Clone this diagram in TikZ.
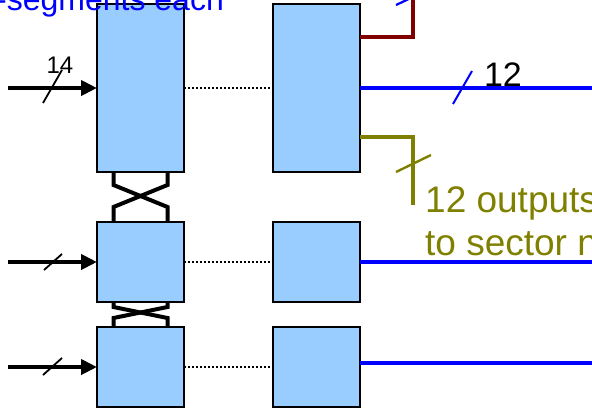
\documentclass[tikz,border=0pt]{standalone}
\usepackage{fontspec}
\setmainfont{Liberation Sans}
\usetikzlibrary{positioning,arrows.meta}
\definecolor{boxblue}{HTML}{99CCFF}
\definecolor{darkred}{RGB}{128,0,0}
\definecolor{olivetext}{RGB}{128,128,0}

\begin{document}
\begin{tikzpicture}[
    x=1pt,y=-1pt,
    node distance=50pt,
    box/.style={rectangle,draw,line width=2pt,fill=boxblue,minimum width=87pt,inner sep=0pt,outer sep=0pt},
    inarrow/.style={-{Triangle[length=16pt,width=15pt]},line width=4pt},
    link/.style={line width=2pt,dash pattern=on 2pt off 2pt},
    outline/.style={line width=3.5pt,draw=blue},
    cross/.style={line width=4pt,line join=miter},
    slash/.style={line width=1.8pt},
    txt/.style={inner sep=0pt,font=\fontsize{#1pt}{#1pt}\selectfont}
]
\useasboundingbox (0,0) rectangle (592,408);
\clip (0,0) rectangle (592,408);

% Boxes
\node[box,minimum height=168pt,anchor=north west] (L1) at (97,4) {};
\node[box,minimum height=80pt,below=50pt of L1] (L2) {};
\node[box,minimum height=80pt,below=25pt of L2] (L3) {};
\node[box,minimum height=168pt,right=89pt of L1] (R1) {};
\node[box,minimum height=80pt,right=89pt of L2] (R2) {};
\node[box,minimum height=80pt,right=89pt of L3] (R3) {};

% Inputs
\coordinate (in1) at (8,88);
\coordinate (in2) at (8,262);
\coordinate (in3) at (8,367);
\draw[inarrow] (in1) -- (L1.west);
\draw[inarrow] (in2) -- (L2.west);
\draw[inarrow] (in3) -- (L3.west);
\draw[slash] (43,103) -- (62,70);
\draw[slash] (44,270) -- (62,254);
\draw[slash] (43,375) -- (62,358);
\node[txt=24,anchor=base] (n14) at (60,73) {14};

% Links between columns
\draw[link] (L1.east) -- (R1.west);
\draw[link] (L2.east) -- (R2.west);
\draw[link] (L3.east) -- (R3.west);

% Crossings
\draw[cross] ([xshift=-27pt]L1.south) -- ++(0,13) -- ([xshift=27pt,yshift=15pt]L2.north) -- ([xshift=27pt]L2.north);
\draw[cross] ([xshift=27pt]L1.south) -- ++(0,13) -- ([xshift=-27pt,yshift=15pt]L2.north) -- ([xshift=-27pt]L2.north);
\draw[cross] ([xshift=-27pt]L2.south) -- ++(0,5) -- ([xshift=27pt,yshift=9pt]L3.north) -- ([xshift=27pt]L3.north);
\draw[cross] ([xshift=27pt]L2.south) -- ++(0,5) -- ([xshift=-27pt,yshift=9pt]L3.north) -- ([xshift=-27pt]L3.north);

% Outputs
\coordinate (out1) at (600,88);
\coordinate (out2) at (600,262);
\coordinate (out3) at (600,363);
\draw[outline] (R1.east) -- (out1);
\draw[outline] (R2.east) -- (out2);
\draw[outline] ([yshift=4pt]R3.east) -- (out3);
\draw[slash,blue,line width=2pt] (453,104) -- (472,71);
\node[txt=34,anchor=base] (n12) at (503,86) {12};

\coordinate (up) at (413,-20);
\draw[line width=3.5pt,darkred] ([yshift=51pt]R1.east) -| (up);
\draw[slash,blue,line width=2.2pt] (396,5) -- (430,-11);

\coordinate (down) at (413,205);
\draw[line width=3.5pt,olivetext] ([yshift=-49pt]R1.east) -| (down);
\draw[slash,olivetext,line width=2.4pt] (396,172) -- (431,155);
\node[txt=37,anchor=base west,text=olivetext] (outA) at (425,212) {12 outputs};
\node[txt=37,anchor=base west,text=olivetext] (outB) at (425,255) {to sector n};

% Top label
\node[txt=32,anchor=base west,text=blue] (seg) at (-4,10) {-segments each};

\end{tikzpicture}
\end{document}
